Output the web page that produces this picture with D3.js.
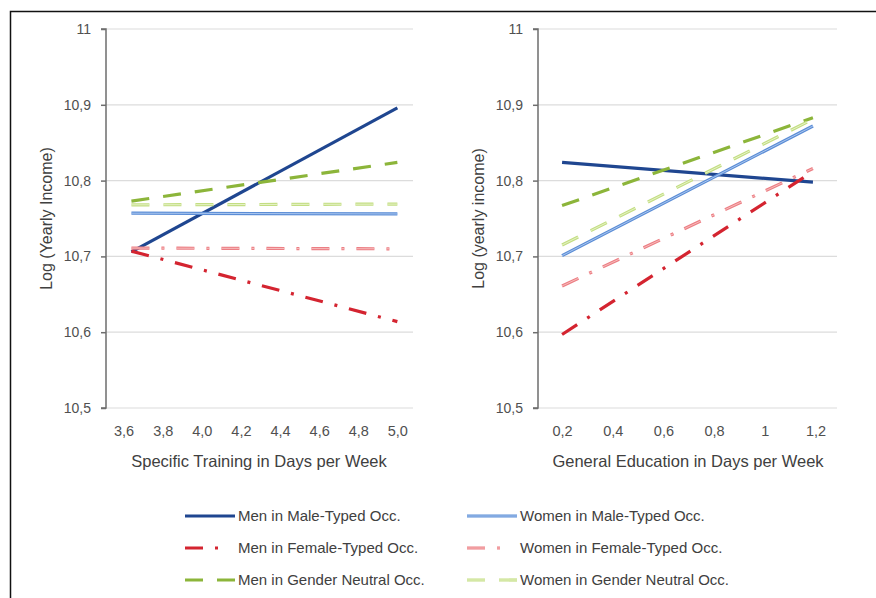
<!DOCTYPE html>
<html>
<head>
<meta charset="utf-8">
<script src="https://cdn.jsdelivr.net/npm/d3@7"></script>
<style>
  body { margin: 0; background: #fff; }
  svg text { font-family: "Liberation Sans", Arial, sans-serif; }
</style>
</head>
<body>
<svg class="chart" width="876" height="598"></svg>
<script>
// DATA /////////////////////////////////////////
const seriesNames = [
  "Men in Male-Typed Occ.",
  "Women in Male-Typed Occ.",
  "Men in Female-Typed Occ.",
  "Women in Female-Typed Occ.",
  "Men in Gender Neutral Occ.",
  "Women in Gender Neutral Occ."
];

// left panel: specific training
const trainingX = [3.64, 5.0];
const trainingTicks = [3.6, 3.8, 4.0, 4.2, 4.4, 4.6, 4.8, 5.0];
const trainingMenMale = [10.706, 10.896];
const trainingWomenMale = [10.757, 10.756];
const trainingMenFemale = [10.707, 10.614];
const trainingWomenFemale = [10.711, 10.710];
const trainingMenNeutral = [10.773, 10.824];
const trainingWomenNeutral = [10.768, 10.769];

// right panel: general education
const educationX = [0.2, 1.19];
const educationTicks = [0.2, 0.4, 0.6, 0.8, 1, 1.2];
const educationMenMale = [10.824, 10.798];
const educationWomenMale = [10.701, 10.872];
const educationMenFemale = [10.597, 10.812];
const educationWomenFemale = [10.661, 10.816];
const educationMenNeutral = [10.767, 10.883];
const educationWomenNeutral = [10.715, 10.881];

const yTicks = [10.5, 10.6, 10.7, 10.8, 10.9, 11];

// STYLES ///////////////////////////////////////
const styles = [
  { color: "#1f4690", dash: null, inner: null, len: 50 },
  { color: "#5b8dd6", dash: null, inner: "#aac6ee", len: 50 },
  { color: "#d42430", dash: "18,12,3,12", inner: null, len: 34 },
  { color: "#ec7e84", dash: "18,12,3,12", inner: "#f7bcbc", len: 34 },
  { color: "#8cb53a", dash: "18,14", inner: null, len: 50 },
  { color: "#c3de82", dash: "18,14", inner: "#e6f2c8", len: 50 }
];

const fmt = (v) => String(v).replace(".", ",");

const svg = d3.select(".chart");

// frame
svg.append("rect")
  .attr("x", 10.5).attr("y", 11.5)
  .attr("width", 880).attr("height", 620)
  .attr("fill", "none").attr("stroke", "#111").attr("stroke-width", 1.5);

const y = d3.scaleLinear().domain([10.5, 11]).range([408, 29]);

const panels = [
  {
    axisX: 106, right: 413, domain: [3.51, 5.08],
    ticks: trainingTicks, tickFmt: (v) => v.toFixed(1).replace(".", ","),
    xs: trainingX,
    series: [trainingMenMale, trainingWomenMale, trainingMenFemale,
             trainingWomenFemale, trainingMenNeutral, trainingWomenNeutral],
    yTitle: "Log (Yearly Income)", yTitleX: 46,
    xTitle: "Specific Training in Days per Week", xTitleX: 259
  },
  {
    axisX: 538, right: 837, domain: [0.105, 1.285],
    ticks: educationTicks, tickFmt: fmt,
    xs: educationX,
    series: [educationMenMale, educationWomenMale, educationMenFemale,
             educationWomenFemale, educationMenNeutral, educationWomenNeutral],
    yTitle: "Log (yearly income)", yTitleX: 478,
    xTitle: "General Education in Days per Week", xTitleX: 688
  }
];

panels.forEach((p) => {
  const x = d3.scaleLinear().domain(p.domain).range([p.axisX, p.right]);
  const g = svg.append("g");

  // gridlines
  g.selectAll(".grid")
    .data(yTicks)
    .join("line")
    .attr("x1", p.axisX).attr("x2", p.right)
    .attr("y1", (d) => y(d)).attr("y2", (d) => y(d))
    .attr("stroke", "#dcdcdc").attr("stroke-width", 1.2);

  // y axis
  const yAxis = d3.axisLeft(y).tickValues(yTicks).tickSize(5).tickPadding(10).tickFormat(fmt);
  const ya = g.append("g").attr("transform", `translate(${p.axisX},0)`).call(yAxis);
  ya.select(".domain").attr("stroke", "#6e6e6e").attr("stroke-width", 1.5).attr("d", `M-5,${y(10.5)}H0V${y(11)}H-5`);
  ya.selectAll(".tick line").attr("stroke", "#6e6e6e").attr("stroke-width", 1.5);
  ya.selectAll("text").attr("fill", "#505050").style("font-size", "14px");

  // x tick labels
  const xAxis = d3.axisBottom(x).tickValues(p.ticks).tickSize(0).tickPadding(18).tickFormat(p.tickFmt);
  const xa = g.append("g").attr("transform", `translate(0,${y(10.5)})`).call(xAxis);
  xa.select(".domain").remove();
  xa.selectAll("text").attr("fill", "#505050").style("font-size", "14.5px");

  // titles
  g.append("text")
    .attr("transform", `translate(${p.yTitleX},${(y(10.5) + y(11)) / 2}) rotate(-90)`)
    .attr("text-anchor", "middle").attr("dy", "0.35em")
    .attr("fill", "#404040").style("font-size", "16px")
    .text(p.yTitle);
  g.append("text")
    .attr("x", p.xTitleX).attr("y", 461)
    .attr("text-anchor", "middle").attr("dy", "0.35em")
    .attr("fill", "#404040").style("font-size", "16.5px")
    .text(p.xTitle);

  // lines
  const line = d3.line().x((d) => x(d[0])).y((d) => y(d[1]));
  p.series.forEach((vals, i) => {
    const pts = vals.map((v, j) => [p.xs[j], v]);
    const s = styles[i];
    g.append("path")
      .attr("d", line(pts))
      .attr("fill", "none").attr("stroke", s.color)
      .attr("stroke-width", 3.2)
      .attr("stroke-dasharray", s.dash);
    if (s.inner) {
      g.append("path")
        .attr("d", line(pts))
        .attr("fill", "none").attr("stroke", s.inner)
        .attr("stroke-width", 1)
        .attr("stroke-dasharray", s.dash);
    }
  });
});

// LEGEND ///////////////////////////////////////
const legendCols = [185, 467];
const legendRows = [516, 548, 580];
const lg = svg.append("g");
seriesNames.forEach((name, i) => {
  const lx = legendCols[i % 2];
  const ly = legendRows[Math.floor(i / 2)];
  const s = styles[i];
  lg.append("line")
    .attr("x1", lx).attr("x2", lx + s.len).attr("y1", ly).attr("y2", ly)
    .attr("stroke", s.color).attr("stroke-width", 3.2)
    .attr("stroke-dasharray", s.dash);
  if (s.inner) {
    lg.append("line")
      .attr("x1", lx).attr("x2", lx + s.len).attr("y1", ly).attr("y2", ly)
      .attr("stroke", s.inner).attr("stroke-width", 1)
      .attr("stroke-dasharray", s.dash);
  }
  lg.append("text")
    .attr("x", lx + 53).attr("y", ly).attr("dy", "0.35em")
    .attr("fill", "#404040").style("font-size", "15px")
    .text(name);
});
</script>
</body>
</html>
